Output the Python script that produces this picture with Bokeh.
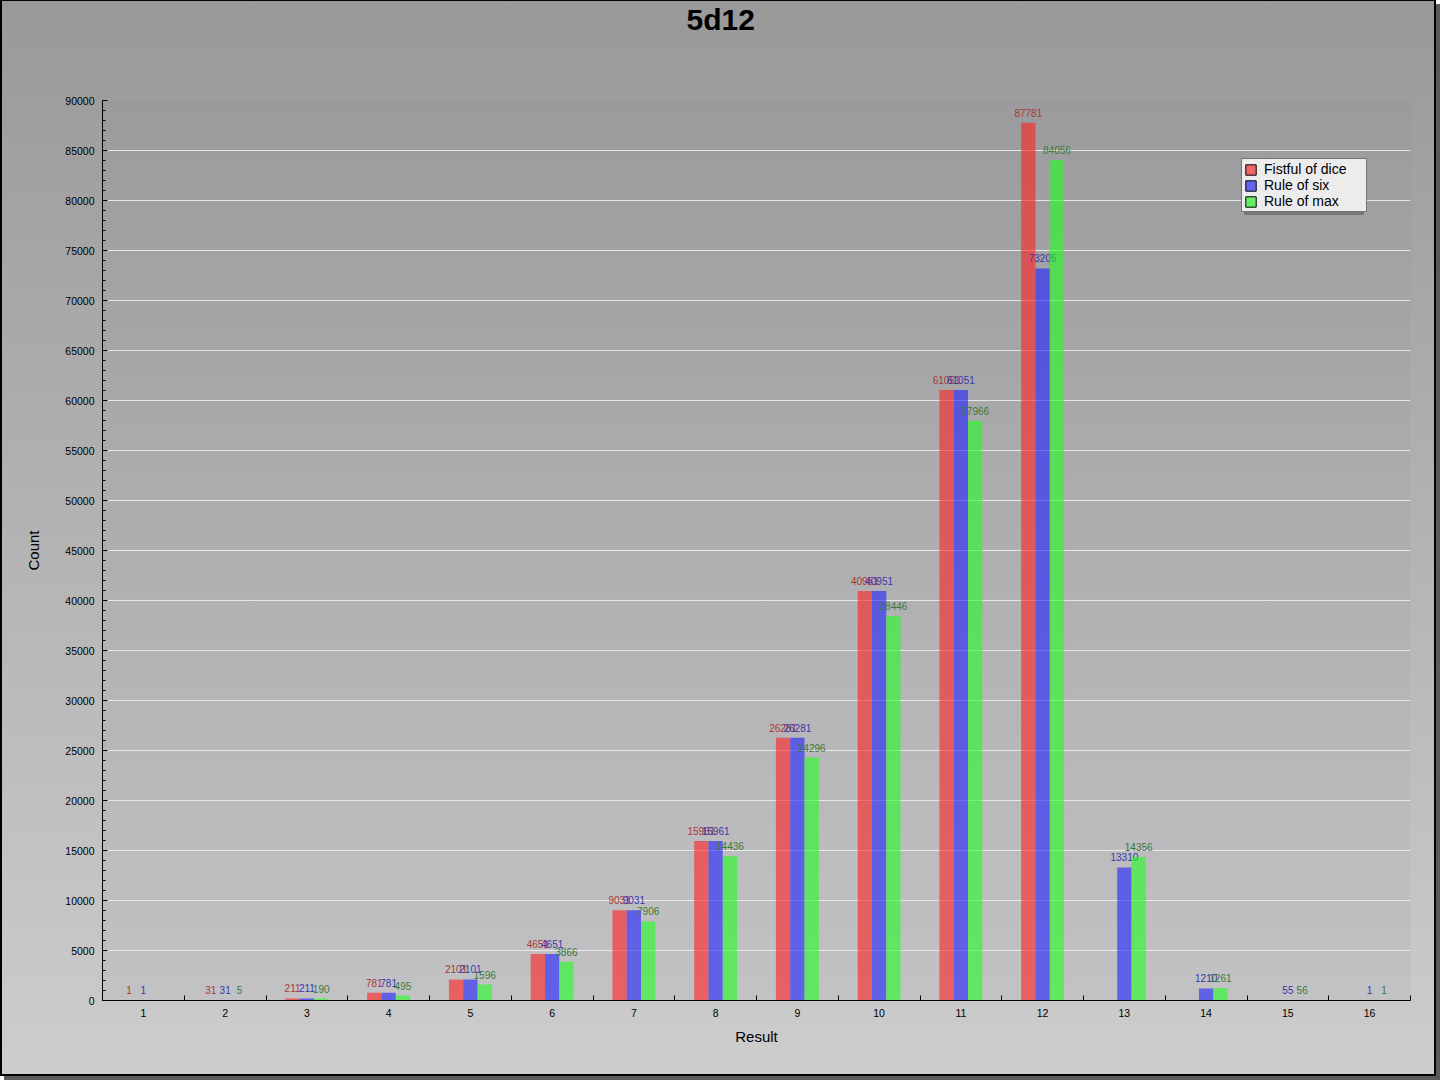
from bokeh.plotting import figure
from bokeh.models import (ColumnDataSource, FixedTicker, NumeralTickFormatter,
                          Legend, LegendItem, SingleIntervalTicker, Title)
from bokeh.transform import dodge
from bokeh.core.properties import value
from bokeh.embed import file_html
from bokeh.resources import INLINE

# ---- data ----
results = list(range(1, 17))
fistful = [1, 31, 211, 781, 2101, 4651, 9031, 15961, 26281, 40951, 61051, 87781, 0, 0, 0, 0]
rule_six = [1, 31, 211, 781, 2101, 4651, 9031, 15961, 26281, 40951, 61051, 73205, 13310, 1210, 55, 1]
rule_max = [0, 5, 190, 495, 1596, 3866, 7906, 14436, 24296, 38446, 57966, 84056, 14356, 1261, 56, 1]
series_names = ["Fistful of dice", "Rule of six", "Rule of max"]
title_text = "5d12"

FONT = "Liberation Sans"
W, H = 1436, 1076
FL, FR, FT, FB = 102, 1410, 100, 1000

p = figure(width=W, height=H, output_backend="svg", toolbar_location=None,
           x_range=(0.5, 16.5), y_range=(0, 90000),
           min_border_left=FL, min_border_right=W - FR,
           min_border_top=FT, min_border_bottom=H - FB,
           tools="")
p.styles = {
    "position": "absolute", "left": "0px", "top": "0px",
    "background": "linear-gradient(to bottom, #999999 0%, #cdcdcd 100%)",
    "box-shadow": "inset 2px 1px 0 0 #000, inset -2px -2px 0 0 #000, 4px 4px 0 0 #5a5a5a",
}
p.border_fill_alpha = 0.0
p.background_fill_color = "#8e8ea8"
p.background_fill_alpha = 0.10
p.outline_line_color = None

# real title (outermost panel, at the very top, centred on the canvas)
p.title.text = title_text
p.title.align = "left"
p.title.offset = 584
p.title.vertical_align = "top"
p.title.standoff = 0
p.title.text_font = FONT
p.title.text_font_size = "30px"
p.title.text_font_style = "bold"
p.title.text_color = "black"
# blank spacer panel between the title and the frame
spacer = Title(text=" ", standoff=28, text_font=FONT, text_font_size="30px")
p.add_layout(spacer, "above")

bw = 0.175
fill_cols = ["#ff2020", "#2020ff", "#20ff20"]
text_cols = ["#a83838", "#3838a8", "#3a7a3a"]
swatch_cols = ["#f06464", "#6464f0", "#64f064"]
offsets = [-bw, 0.0, bw]
data_series = [fistful, rule_six, rule_max]

items = []
shadow_items = []
nan = float("nan")
for vals, fc, tc, sc, off, name in zip(data_series, fill_cols, text_cols, swatch_cols, offsets, series_names):
    xs = [r for r, v in zip(results, vals) if v > 0]
    ys = [v for v in vals if v > 0]
    src = ColumnDataSource(dict(x=xs, y=ys, lab=[str(v) for v in ys]))
    p.vbar(x=dodge("x", off, range=p.x_range), top="y", bottom=0, width=bw, source=src,
           fill_color=fc, fill_alpha=0.6, line_color=None)
    p.text(x=dodge("x", off, range=p.x_range), y="y", text="lab", source=src,
           text_align="center", text_baseline="bottom", y_offset=-6,
           text_font=value(FONT), text_font_size="10px", text_color=tc)
    dummy = p.vbar(x=[nan], top=[nan], bottom=[nan], width=bw, fill_color=sc,
                   line_color="black", line_width=1)
    items.append(LegendItem(label=name, renderers=[dummy]))
    ghost = p.vbar(x=[nan], top=[nan], bottom=[nan], width=bw, fill_alpha=0, line_alpha=0)
    shadow_items.append(LegendItem(label=" ", renderers=[ghost]))

# axes
p.yaxis.ticker = SingleIntervalTicker(interval=5000, num_minor_ticks=5)
p.yaxis.formatter = NumeralTickFormatter(format="0")
p.yaxis.major_tick_in = 5
p.yaxis.major_tick_out = 0
p.yaxis.minor_tick_in = 3
p.yaxis.minor_tick_out = 0
p.yaxis.major_label_standoff = 8
p.yaxis.axis_label = "Count"
p.yaxis.axis_label_standoff = 20

p.xaxis.ticker = FixedTicker(ticks=results, minor_ticks=[r - 0.5 for r in results] + [results[-1] + 0.5])
p.xaxis.major_tick_in = 0
p.xaxis.major_tick_out = 0
p.xaxis.minor_tick_in = 5
p.xaxis.minor_tick_out = 0
p.xaxis.major_label_standoff = 8
p.xaxis.axis_label = "Result"
p.xaxis.axis_label_standoff = 8

for ax in (p.xaxis[0], p.yaxis[0]):
    ax.axis_line_color = "black"
    ax.major_tick_line_color = "black"
    ax.minor_tick_line_color = "black"
    ax.major_label_text_font = FONT
    ax.major_label_text_font_size = "10.5px"
    ax.major_label_text_color = "black"
    ax.axis_label_text_font = FONT
    ax.axis_label_text_font_size = "15px"
    ax.axis_label_text_font_style = "normal"
    ax.axis_label_text_color = "black"

p.xgrid.grid_line_color = None
p.ygrid.grid_line_color = "#ececec"
p.ygrid.grid_line_width = 1
p.ygrid.grid_line_alpha = 0.9

legend_style = dict(orientation="vertical",
                    label_text_font=FONT, label_text_font_size="14px",
                    glyph_width=13, glyph_height=13, label_height=14, label_standoff=7,
                    spacing=0, padding=2, margin=0, label_width=100)

shadow = Legend(items=shadow_items, location=(1142, 785), label_text_alpha=0.0,
                border_line_color=None, background_fill_color="#6e6e6e",
                background_fill_alpha=0.8, **legend_style)
p.add_layout(shadow, "center")

legend = Legend(items=items, location=(1139, 788), label_text_color="black",
                border_line_color="black", border_line_width=1,
                background_fill_color="#ececec", background_fill_alpha=1.0, **legend_style)
p.add_layout(legend, "center")

open("out.html", "w").write(file_html(p, INLINE))
